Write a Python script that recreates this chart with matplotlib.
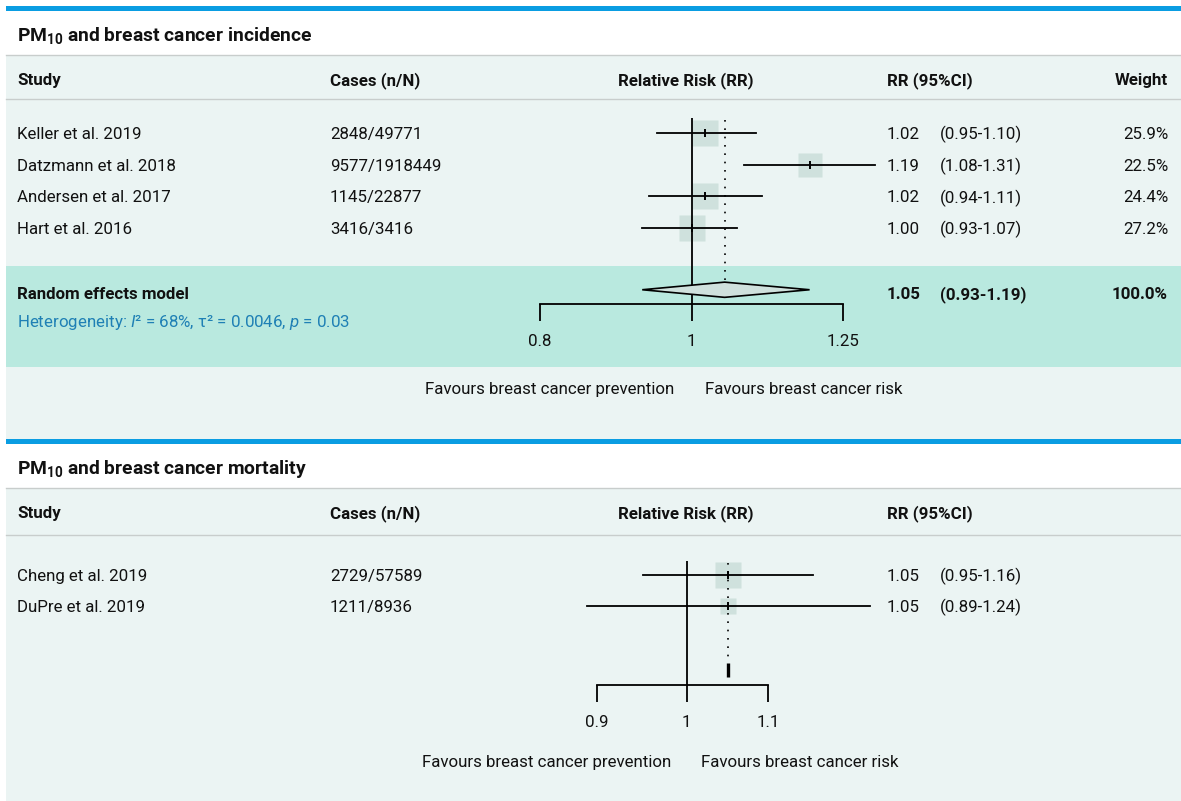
import numpy as np
import matplotlib
matplotlib.use("Agg")
import matplotlib.pyplot as plt
from matplotlib.patches import Rectangle, Polygon
from matplotlib.ticker import NullLocator

plt.rcParams['font.family'] = ['Roboto', 'DejaVu Sans']
plt.rcParams['mathtext.fontset'] = 'custom'
plt.rcParams['mathtext.rm'] = 'Roboto'
plt.rcParams['mathtext.it'] = 'Roboto:italic'
plt.rcParams['mathtext.bf'] = 'Roboto:bold'

# ---- incidence panel
inc_study = ["Keller et al. 2019", "Datzmann et al. 2018", "Andersen et al. 2017", "Hart et al. 2016"]
inc_cases = ["2848/49771", "9577/1918449", "1145/22877", "3416/3416"]
inc_rr = [1.02, 1.19, 1.02, 1.00]
inc_lo = [0.95, 1.08, 0.94, 0.93]
inc_hi = [1.10, 1.31, 1.11, 1.07]
inc_weight = [25.9, 22.5, 24.4, 27.2]
inc_pool = [1.05, 0.93, 1.19]
inc_ticks = [0.8, 1, 1.25]
inc_tick_labels = ["0.8", "1", "1.25"]
inc_het = r"Heterogeneity: $\mathit{I}$² = 68%, τ² = 0.0046, $\mathit{p}$ = 0.03"

# ---- mortality panel
mort_study = ["Cheng et al. 2019", "DuPre et al. 2019"]
mort_cases = ["2729/57589", "1211/8936"]
mort_rr = [1.05, 1.05]
mort_lo = [0.95, 0.89]
mort_hi = [1.16, 1.24]
mort_weight = [72, 28]      # not printed
mort_pool = 1.05
mort_ticks = [0.9, 1, 1.1]
mort_tick_labels = ["0.9", "1", "1.1"]

W, H = 1181, 801
BLUE = "#0a9de2"
LIGHT = "#ebf4f3"
TEAL = "#b9e9df"
GRAYLINE = "#c8cdcc"
BOX = "#cfe1dd"
HETC = "#1f80b5"
FS = 12.2

fig = plt.figure(figsize=(W / 100, H / 100), dpi=100)
fig.patch.set_facecolor("white")
bg = fig.add_axes([0, 0, 1, 1])
bg.set_xlim(0, W); bg.set_ylim(H, 0); bg.axis("off")


def band(y0, y1, color, x0=6):
    bg.add_patch(Rectangle((x0, y0), W - x0, y1 - y0, color=color, lw=0, zorder=0))


def hline(y):
    bg.plot([6, W], [y, y], color=GRAYLINE, lw=1, zorder=1)


def txt(x, y, s, **kw):
    kw.setdefault("fontsize", FS)
    kw.setdefault("va", "center")
    kw.setdefault("color", "#111111")
    bg.text(x, y + 1.5, s, **kw)


# backgrounds
band(6, 10.5, BLUE)
band(55, 439, LIGHT)
band(266, 367, TEAL)
band(439, 444, BLUE)
band(488, H, LIGHT)
for y in (55, 99, 488, 535):
    hline(y)


def pix_axes(x0, x1, y0, y1):
    return fig.add_axes([x0 / W, 1 - y1 / H, (x1 - x0) / W, (y1 - y0) / H])


def forest(ax, rr, lo, hi, w, ticks, labels, ytop, ybot):
    ax.set_xscale("log")
    ax.set_xlim(ticks[0], ticks[-1])
    ax.set_ylim(ybot, ytop)
    ax.patch.set_visible(False)
    for s in ("top", "right", "left"):
        ax.spines[s].set_visible(False)
    ax.spines["bottom"].set_bounds(ticks[0], ticks[-1])
    ax.spines["bottom"].set_linewidth(1.3)
    ax.set_yticks([])
    ax.set_xticks(ticks, labels)
    ax.xaxis.set_minor_locator(NullLocator())
    ax.tick_params(axis="x", direction="out", length=12.3, width=1.3,
                   pad=9.5, labelsize=FS, labelcolor="#111111")
    ax.axvline(1, color="k", lw=1.3, zorder=3)
    wmax = max(w)
    for i in range(len(rr)):
        ms = 26.5 * np.sqrt(w[i] / wmax) * 0.72
        ax.plot(rr[i], i, marker="s", ms=ms, color=BOX, mec="none", zorder=2, clip_on=False)
        ax.plot([lo[i], hi[i]], [i, i], color="k", lw=1.3, zorder=4, clip_on=False)
        ax.plot(rr[i], i, marker="|", ms=6, mew=1.4, color="k", zorder=5, clip_on=False)


# ---- incidence
txt(17, 34, r"PM$_\mathbf{10}$ and breast cancer incidence", fontsize=13.9, weight="bold")
hy = 79
txt(17, hy, "Study", weight="bold")
txt(330, hy, "Cases (n/N)", weight="bold")
txt(686, hy, "Relative Risk (RR)", weight="bold", ha="center")
txt(887, hy, "RR (95%CI)", weight="bold")
txt(1168, hy, "Weight", weight="bold", ha="right")
for i in range(len(inc_study)):
    y = 133 + 31.7 * i
    txt(17, y, inc_study[i])
    txt(330, y, inc_cases[i])
    txt(887, y, f"{inc_rr[i]:.2f}")
    txt(940, y, f"({inc_lo[i]:.2f}-{inc_hi[i]:.2f})")
    txt(1168, y, f"{inc_weight[i]:.1f}%", ha="right")
txt(17, 293, "Random effects model", weight="bold")
txt(17, 321, inc_het, color=HETC)
txt(887, 293, f"{inc_pool[0]:.2f}", weight="bold")
txt(940, 293, f"({inc_pool[1]:.2f}-{inc_pool[2]:.2f})", weight="bold")
txt(1168, 293, f"{sum(inc_weight):.1f}%", weight="bold", ha="right")
txt(674, 388, "Favours breast cancer prevention", ha="right")
txt(705, 388, "Favours breast cancer risk")

ax1 = pix_axes(540, 843, 118, 304)
forest(ax1, inc_rr, inc_lo, inc_hi, inc_weight, inc_ticks, inc_tick_labels, -0.47, 5.40)
prow = 4.95
ax1.plot([inc_pool[0]] * 2, [-0.4, prow - 0.24], color="k", lw=1.2,
         ls=(0, (1, 4)), zorder=3)
ax1.add_patch(Polygon([(inc_pool[1], prow), (inc_pool[0], prow - 0.24),
                       (inc_pool[2], prow), (inc_pool[0], prow + 0.24)],
                      closed=True, fc=BOX, ec="k", lw=1.2, zorder=6, clip_on=False))

# ---- mortality
txt(17, 467, r"PM$_\mathbf{10}$ and breast cancer mortality", fontsize=13.9, weight="bold")
hy = 512
txt(17, hy, "Study", weight="bold")
txt(330, hy, "Cases (n/N)", weight="bold")
txt(686, hy, "Relative Risk (RR)", weight="bold", ha="center")
txt(887, hy, "RR (95%CI)", weight="bold")
for i in range(len(mort_study)):
    y = 575 + 31 * i
    txt(17, y, mort_study[i])
    txt(330, y, mort_cases[i])
    txt(887, y, f"{mort_rr[i]:.2f}")
    txt(940, y, f"({mort_lo[i]:.2f}-{mort_hi[i]:.2f})")
txt(671, 761, "Favours breast cancer prevention", ha="right")
txt(701, 761, "Favours breast cancer risk")

ax2 = pix_axes(597, 768, 561, 685)
forest(ax2, mort_rr, mort_lo, mort_hi, mort_weight, mort_ticks, mort_tick_labels, -0.45, 3.55)
prow = 3.06
ax2.plot([mort_pool] * 2, [-0.4, prow - 0.23], color="k", lw=1.2,
         ls=(0, (1, 4)), zorder=3)
ax2.plot([mort_pool] * 2, [prow - 0.23, prow + 0.23], color="k", lw=2.4,
         solid_capstyle="butt", zorder=6)

fig.savefig("out.png", dpi=100, facecolor="white")
